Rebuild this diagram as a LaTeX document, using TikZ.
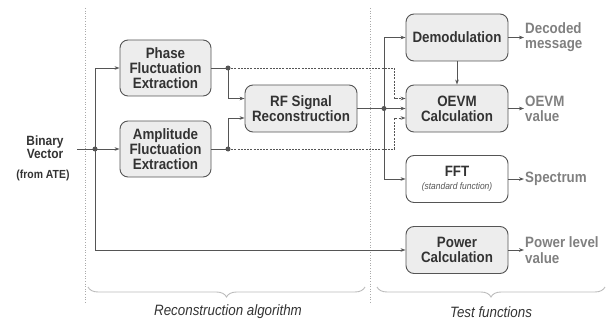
\documentclass[tikz,border=0pt]{standalone}
\usepackage{fontspec}
\setmainfont{Liberation Sans}[FakeStretch=0.89]
\usetikzlibrary{arrows.meta,decorations.pathreplacing,calc}
\definecolor{boxfill}{HTML}{EDEDED}
\definecolor{linec}{HTML}{555555}
\definecolor{textc}{HTML}{333333}
\definecolor{outc}{HTML}{808080}
\definecolor{divc}{HTML}{AAAAAA}
\definecolor{bracec}{HTML}{BBBBBB}
\begin{document}
\begin{tikzpicture}[x=1pt,y=-1pt,
  box/.style={draw=linec, fill=boxfill, rounded corners=8pt, line width=0.9pt, align=center,
    font=\fontsize{15}{15.3}\selectfont\bfseries, text=textc, inner sep=0pt},
  tbox/.style={box, minimum width=102pt, minimum height=47pt},
  outl/.style={anchor=west, align=left, inner sep=1pt, text=outc,
    font=\fontsize{15}{15.3}\selectfont\bfseries},
  conn/.style={draw=linec, line width=0.9pt},
  arr/.style={conn, -{Stealth[length=5pt,width=3.6pt]}},
  darr/.style={arr, dashed, dash pattern=on 2pt off 1.2pt},
  jdot/.style={circle, fill=linec, inner sep=0pt, minimum size=5pt},
  divider/.style={draw=divc, line width=0.6pt, dotted},
  brc/.style={draw=bracec, line width=0.9pt, decorate, decoration={brace, amplitude=10pt}},
  lbl/.style={font=\fontsize{15}{15}\selectfont\itshape, text=textc}
]
\useasboundingbox (0,0) rectangle (611,321);

% dividers
\draw[divider] (85,8) -- (85,302);
\draw[divider] (370,8) -- (370,302);

% nodes
\node[box, minimum width=91pt, minimum height=56pt] (pfe) at (165.5,68) {Phase\\Fluctuation\\Extraction};
\node[box, minimum width=91pt, minimum height=56pt] (afe) at (165.5,149) {Amplitude\\Fluctuation\\Extraction};
\node[box, minimum width=112pt, minimum height=47pt] (rf) at (301,108.5) {RF Signal\\Reconstruction};
\node[tbox] (dem) at (457,37.5) {Demodulation};
\node[tbox] (oevm) at (457,108.5) {OEVM\\Calculation};
\node[tbox, fill=white] (fft) at (457,179) {FFT\\[-2pt]{\fontsize{9.5}{10}\selectfont\mdseries\itshape\color{linec}(standard function)}};
\node[tbox] (pow) at (457,250) {Power\\Calculation};

\node[align=center, text=textc, font=\fontsize{13.4}{12.5}\selectfont\bfseries] (bv) at (45,147) {Binary\\Vector};
\node[text=textc, font=\fontsize{11.7}{12}\selectfont\bfseries] (ate) at (43,175.5) {(from ATE)};

% outputs
\node[outl] (o1) at (524,37.5) {Decoded\\message};
\node[outl] (o2) at (524,108.5) {OEVM\\value};
\node[outl] (o3) at (524,179) {Spectrum};
\node[outl] (o4) at (524,250) {Power level\\value};

% junctions
\coordinate (bvin) at (77,149);
\coordinate (j0) at (95,149);
\coordinate (j1) at (228,68);
\coordinate (j2) at (228,149);
\coordinate (j3) at (384,108.5);

% input connectors
\draw[arr] (bvin) -- (afe.west);
\draw[arr] (j0) |- (pfe.west);
\draw[arr] (j0) |- (pow.west);

% extraction outputs
\draw[conn] (pfe.east) -- (j1);
\draw[conn] (afe.east) -- (j2);
\draw[arr] (j1) |- ($(rf.west)+(0,-10)$);
\draw[arr] (j2) |- ($(rf.west)+(0,9.5)$);
\draw[darr] (j1) -| ($(oevm.west)+(-11,-10)$) -- ($(oevm.west)+(0,-10)$);
\draw[darr] (j2) -| ($(oevm.west)+(-11,9.5)$) -- ($(oevm.west)+(0,9.5)$);

% RF outputs
\draw[arr] (rf.east) -- (oevm.west);
\draw[arr] (j3) |- (dem.west);
\draw[arr] (j3) |- (fft.west);
\draw[arr] (dem.south) -- (oevm.north);

% outputs
\draw[arr] (dem.east) -- (o1.west);
\draw[arr] (oevm.east) -- (o2.west);
\draw[arr] (fft.east) -- (o3.west);
\draw[arr] (pow.east) -- (o4.west);

% dots
\node[jdot] at (j0) {};
\node[jdot] at (j1) {};
\node[jdot] at (j2) {};
\node[jdot] at (j3) {};

% braces
\draw[brc] (365,287) -- (88,287);
\draw[brc] (605,287) -- (377,287);
\node[lbl] (l1) at (228,312) {Reconstruction algorithm};
\node[lbl] (l2) at (491,312) {Test functions};
\end{tikzpicture}
\end{document}
